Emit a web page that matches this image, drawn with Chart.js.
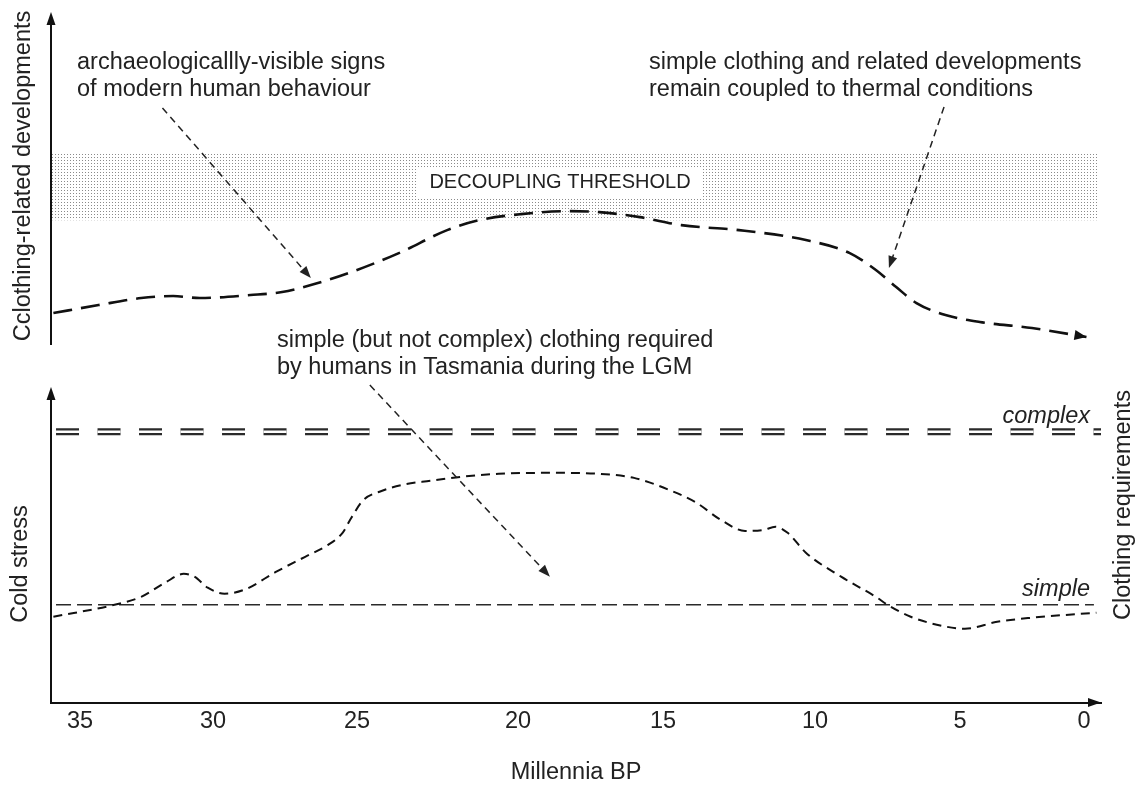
<!DOCTYPE html>
<html>
<head>
<meta charset="utf-8">
<script src="https://cdn.jsdelivr.net/npm/chart.js@4.4.0/dist/chart.umd.min.js"></script>
<style>
  html, body { margin: 0; padding: 0; background: #fff; }
  #wrap { position: relative; width: 1142px; height: 792px; }
  .panel { position: absolute; left: 0; width: 1142px; }
  #top { top: 0; height: 360px; }
  #bottom { top: 320px; height: 472px; }
</style>
</head>
<body>
<div id="wrap">
  <div class="panel" id="top"><canvas id="topChart"></canvas></div>
  <div class="panel" id="bottom"><canvas id="bottomChart"></canvas></div>
</div>
<script>
// time axis (millennia BP)
const tickLabels = ['35', '30', '25', '20', '15', '10', '5', '0'];

// upper panel: clothing-related developments (schematic level 0-100)
const devAge = [36.0, 34.3, 32.7, 31.5, 30.5, 28.7, 27.6, 26.6, 25.2, 23.7, 22.2, 21.2, 19.9, 18.3,
  17.2, 15.8, 14.4, 12.5, 10.3, 8.8, 7.9, 7.2, 6.5, 5.5, 4.2, 2.1, -0.1];
const devLevel = [9.6, 12.0, 14.1, 14.7, 14.1, 15.0, 15.9, 18.0, 21.9, 27.6, 34.5, 37.5, 39.3, 40.2,
  39.9, 38.4, 36.0, 34.5, 31.5, 27.6, 22.5, 17.4, 12.6, 9.0, 6.9, 5.1, 2.4];
const thresholdBand = [37.5, 57.7]; // decoupling threshold, lower / upper

// lower panel: cold stress (schematic level 0-100)
const coldAge = [36.0, 33.7, 32.7, 31.8, 31.1, 30.7, 30.2, 29.6, 28.9, 27.8, 26.8, 26.0, 25.5, 25.2,
  24.8, 24.3, 23.6, 22.7, 21.8, 20.6, 18.7, 17.2, 16.0, 14.8, 13.9, 13.1, 12.3, 11.7, 11.3, 10.9,
  10.3, 9.1, 7.9, 7.5, 6.7, 5.5, 4.8, 3.5, 2.1, -0.5];
const coldLevel = [27.2, 31.0, 33.5, 38.0, 40.8, 39.9, 36.4, 34.5, 35.8, 41.5, 46.2, 50.0, 53.8, 58.5,
  64.2, 66.8, 69.0, 70.3, 71.5, 72.5, 72.8, 72.5, 71.2, 67.4, 63.3, 57.9, 54.4, 54.7, 55.7, 53.8,
  47.5, 39.9, 33.5, 31.0, 27.2, 24.1, 23.4, 25.6, 26.9, 28.5];

// clothing requirement levels and the span of their lines
const complexLevel = 85.8;
const simpleLevel = 31.0;
const complexSpan = [35.9, -0.7];
const simpleSpan = [35.9, -0.4];
const bandSpan = [36.1, -0.55];

// the original artwork spaces its ticks unevenly: where each tick sits, as a fraction of the plot width
const tickPlace = [0.0276, 0.1543, 0.2914, 0.4448, 0.5829, 0.7276, 0.8657, 0.9838];

const FONT = '"Liberation Sans", Arial, Helvetica, sans-serif';
const INK = '#222';
const TXT = 23.5;
Chart.defaults.font.family = FONT;
Chart.defaults.color = INK;

// linear scale that follows the uneven tick spacing of the original drawing
class WarpedTimeScale extends Chart.LinearScale {
  static id = 'warpedTime';
  static defaults = {};
  _frac(v) {
    const a = tickLabels.map(Number), f = tickPlace, n = a.length;
    let i = 0;
    if (v <= a[n - 1]) i = n - 2;
    else if (v < a[0]) while (!(v <= a[i] && v >= a[i + 1])) i++;
    return f[i] + (a[i] - v) * (f[i + 1] - f[i]) / (a[i] - a[i + 1]);
  }
  getPixelForValue(v) {
    return this.left + this.width * this._frac(v);
  }
  getValueForPixel(p) {
    const a = tickLabels.map(Number), f = tickPlace, n = a.length;
    const d = (p - this.left) / this.width;
    let i = 0;
    if (d >= f[n - 1]) i = n - 2;
    else if (d > f[0]) while (!(d >= f[i] && d <= f[i + 1])) i++;
    return a[i] - (d - f[i]) * (a[i] - a[i + 1]) / (f[i + 1] - f[i]);
  }
}
Chart.register(WarpedTimeScale);

const pts = (xs, ys) => xs.map((a, i) => ({ x: a, y: ys[i] }));
const flat = (span, v) => [{ x: span[0], y: v }, { x: span[1], y: v }];

// dotted texture for the threshold band
const tile = document.createElement('canvas');
tile.width = 3; tile.height = 3;
const tctx = tile.getContext('2d');
tctx.fillStyle = '#fff'; tctx.fillRect(0, 0, 3, 3);
tctx.fillStyle = '#8a8a8a'; tctx.fillRect(1, 1, 1, 1);
const dots = tctx.createPattern(tile, 'repeat');

function arrowHead(ctx, x, y, angle, len, half) {
  ctx.save();
  ctx.translate(x, y);
  ctx.rotate(angle);
  ctx.beginPath();
  ctx.moveTo(0, 0);
  ctx.lineTo(-len, -half);
  ctx.lineTo(-len, half);
  ctx.closePath();
  ctx.fill();
  ctx.restore();
}

function dashedArrow(ctx, x1, y1, x2, y2) {
  const ang = Math.atan2(y2 - y1, x2 - x1);
  ctx.save();
  ctx.strokeStyle = INK;
  ctx.fillStyle = INK;
  ctx.lineWidth = 1.5;
  ctx.setLineDash([7, 5]);
  ctx.beginPath();
  ctx.moveTo(x1, y1);
  ctx.lineTo(x2 - 10 * Math.cos(ang), y2 - 10 * Math.sin(ang));
  ctx.stroke();
  ctx.setLineDash([]);
  arrowHead(ctx, x2, y2, ang, 12, 4.5);
  ctx.restore();
}

function vAxis(ctx, a) {
  ctx.save();
  ctx.strokeStyle = '#111';
  ctx.fillStyle = '#111';
  ctx.lineWidth = 2;
  ctx.beginPath();
  ctx.moveTo(a.left, a.bottom);
  ctx.lineTo(a.left, a.top + 10);
  ctx.stroke();
  arrowHead(ctx, a.left, a.top, -Math.PI / 2, 13, 4.5);
  ctx.restore();
}

function rotText(ctx, text, cx, cy) {
  ctx.save();
  ctx.translate(cx, cy);
  ctx.rotate(-Math.PI / 2);
  ctx.textAlign = 'center';
  ctx.fillText(text, 0, 0);
  ctx.restore();
}

const topDecor = {
  id: 'topDecor',
  afterDraw(chart) {
    const { ctx, chartArea: a, scales: { x, y } } = chart;
    vAxis(ctx, a);

    // arrow at the end of the development curve
    const el = chart.getDatasetMeta(0).data;
    const p1 = el[el.length - 2], p2 = el[el.length - 1];
    ctx.save();
    ctx.fillStyle = '#111';
    arrowHead(ctx, p2.x, p2.y, Math.atan2(p2.y - p1.y, p2.x - p1.x), 12, 5);
    ctx.restore();

    ctx.save();
    ctx.fillStyle = INK;
    ctx.textBaseline = 'middle';

    // threshold label on a white box
    ctx.font = '20px ' + FONT;
    const lbl = 'DECOUPLING THRESHOLD';
    const w = ctx.measureText(lbl).width;
    const cx = 560, cy = 182;
    ctx.fillStyle = '#fff';
    ctx.fillRect(cx - w / 2 - 12, cy - 15, w + 24, 30);
    ctx.fillStyle = INK;
    ctx.textAlign = 'center';
    ctx.fillText(lbl, cx, cy);

    ctx.font = TXT + 'px ' + FONT;
    ctx.textAlign = 'left';
    ctx.fillText('archaeologicallly-visible signs', 77, 63);
    ctx.fillText('of modern human behaviour', 77, 90);
    ctx.fillText('simple clothing and related developments', 649, 63);
    ctx.fillText('remain coupled to thermal conditions', 649, 90);
    rotText(ctx, 'Cclothing-related developments', 24, 176);
    ctx.restore();

    dashedArrow(ctx, x.getPixelForValue(31.9), y.getPixelForValue(71.2),
      x.getPixelForValue(26.6), y.getPixelForValue(20.1));
    dashedArrow(ctx, x.getPixelForValue(5.55), y.getPixelForValue(71.5),
      x.getPixelForValue(7.45), y.getPixelForValue(23.1));
  }
};

const bottomDecor = {
  id: 'bottomDecor',
  afterDraw(chart) {
    const { ctx, chartArea: a, scales: { x, y } } = chart;
    vAxis(ctx, a);
    ctx.save();
    ctx.fillStyle = '#111';
    arrowHead(ctx, a.right, a.bottom, 0, 13, 4.5);

    ctx.fillStyle = INK;
    ctx.textBaseline = 'middle';
    ctx.font = 'italic ' + TXT + 'px ' + FONT;
    ctx.textAlign = 'right';
    ctx.fillText('complex', 1090, y.getPixelForValue(complexLevel) - 15);
    ctx.fillText('simple', 1090, y.getPixelForValue(simpleLevel) - 15);

    ctx.font = TXT + 'px ' + FONT;
    ctx.textAlign = 'left';
    ctx.fillText('simple (but not complex) clothing required', 277, 21);
    ctx.fillText('by humans in Tasmania during the LGM', 277, 48);
    rotText(ctx, 'Cold stress', 21, 244);
    rotText(ctx, 'Clothing requirements', 1124, 185);
    ctx.restore();

    dashedArrow(ctx, x.getPixelForValue(24.6), y.getPixelForValue(100.6),
      x.getPixelForValue(18.9), y.getPixelForValue(39.9));
  }
};

const xRange = { type: 'warpedTime', min: -0.7, max: 36.1 };

new Chart(document.getElementById('topChart'), {
  type: 'line',
  data: {
    datasets: [
      {
        label: 'Clothing-related developments',
        data: pts(devAge, devLevel),
        borderColor: '#111',
        borderWidth: 2.6,
        borderDash: [19, 9],
        pointRadius: 0,
        cubicInterpolationMode: 'monotone',
        fill: false,
        order: 0,
      },
      {
        label: 'Threshold upper',
        data: flat(bandSpan, thresholdBand[1]),
        borderWidth: 0,
        pointRadius: 0,
        fill: '+1',
        backgroundColor: dots,
        order: 1,
      },
      {
        label: 'Threshold lower',
        data: flat(bandSpan, thresholdBand[0]),
        borderWidth: 0,
        pointRadius: 0,
        fill: false,
        order: 2,
      },
    ],
  },
  options: {
    responsive: true,
    maintainAspectRatio: false,
    animation: false,
    layout: { padding: { left: 51, right: 41, top: 12, bottom: 15 } },
    scales: {
      x: { ...xRange, display: false },
      y: { min: 0, max: 100, display: false },
    },
    plugins: { legend: { display: false }, tooltip: { enabled: false } },
  },
  plugins: [topDecor],
});

new Chart(document.getElementById('bottomChart'), {
  type: 'line',
  data: {
    datasets: [
      {
        label: 'Cold stress',
        data: pts(coldAge, coldLevel),
        borderColor: '#111',
        borderWidth: 2,
        borderDash: [9, 6],
        pointRadius: 0,
        cubicInterpolationMode: 'monotone',
        fill: false,
        order: 0,
      },
      {
        // white core turns the thick dash into a double line
        label: 'complex core',
        data: flat(complexSpan, complexLevel),
        borderColor: '#fff',
        borderWidth: 2.4,
        borderDash: [23, 18.5],
        pointRadius: 0,
        order: 1,
      },
      {
        label: 'complex',
        data: flat(complexSpan, complexLevel),
        borderColor: '#2a2a2a',
        borderWidth: 7,
        borderDash: [23, 18.5],
        pointRadius: 0,
        order: 2,
      },
      {
        label: 'simple',
        data: flat(simpleSpan, simpleLevel),
        borderColor: '#2a2a2a',
        borderWidth: 1.6,
        borderDash: [15, 6],
        pointRadius: 0,
        order: 3,
      },
    ],
  },
  options: {
    responsive: true,
    maintainAspectRatio: false,
    animation: false,
    layout: { padding: { left: 51, right: 41, top: 67, bottom: 5 } },
    scales: {
      x: {
        ...xRange,
        afterBuildTicks: (s) => { s.ticks = tickLabels.map((t) => ({ value: Number(t) })); },
        ticks: { font: { size: TXT }, padding: 5, autoSkip: false, maxRotation: 0, color: INK },
        grid: { display: false, drawTicks: false },
        border: { display: true, color: '#111', width: 2 },
        title: { display: true, text: 'Millennia BP', font: { size: TXT }, color: INK, padding: { top: 18, bottom: 0 } },
      },
      y: { min: 0, max: 100, display: false },
    },
    plugins: { legend: { display: false }, tooltip: { enabled: false } },
  },
  plugins: [bottomDecor],
});
</script>
</body>
</html>
